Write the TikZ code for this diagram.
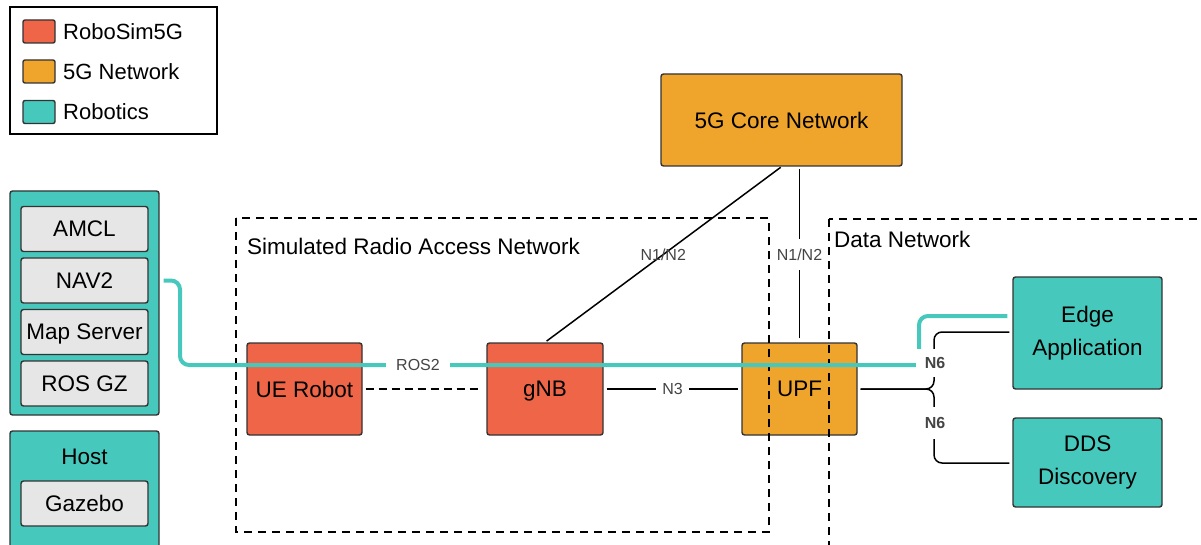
\documentclass[tikz,border=0pt]{standalone}
\usepackage{fontspec}
\setmainfont{Liberation Sans}
\usetikzlibrary{calc}
\definecolor{robosim}{HTML}{EE6548}
\definecolor{fivegnet}{HTML}{EFA52C}
\definecolor{robotics}{HTML}{47C8BC}
\definecolor{innergray}{HTML}{E6E6E6}
\definecolor{edgecol}{HTML}{333333}
\definecolor{labelgray}{HTML}{444444}

\begin{document}
\begin{tikzpicture}[x=1pt,y=-1pt,
  box/.style={draw=edgecol, line width=1.4pt, rounded corners=2.5pt, inner sep=0pt,
    align=center, font=\fontsize{22.5}{33}\selectfont},
  robobox/.style={box, fill=robosim},
  netbox/.style={box, fill=fivegnet},
  robotbox/.style={box, fill=robotics},
  modbox/.style={box, fill=innergray, minimum width=127pt, minimum height=45pt},
  swatch/.style={box, minimum width=32pt, minimum height=23pt, rounded corners=2pt},
  legtext/.style={anchor=west, inner sep=0pt, font=\fontsize{22}{26}\selectfont},
  region/.style={draw=black, line width=1.4pt, dash pattern=on 8pt off 6pt},
  regiontext/.style={anchor=west, inner sep=0pt, font=\fontsize{22.5}{26}\selectfont},
  link/.style={draw=black, line width=1.5pt},
  roslink/.style={draw=robotics, line width=4pt},
  iflabel/.style={font=\fontsize{16}{18}\selectfont, text=labelgray, inner sep=3pt},
  n6label/.style={font=\fontsize{16}{18}\selectfont\bfseries, text=labelgray, fill=white,
    inner xsep=9pt, inner ysep=8pt},
]
\useasboundingbox (0,0) rectangle (1201,545);

% legend
\node[draw=black, line width=1.2pt, minimum width=207pt, minimum height=127pt, inner sep=0pt]
  (legend) at (113.5,70.5) {};
\node[swatch, fill=robosim]  (swA) at (39,31.5) {};
\node[swatch, fill=fivegnet] (swB) at (39,71.5) {};
\node[swatch, fill=robotics] (swC) at (39,112) {};
\node[legtext] (ltA) at (63,31.5) {RoboSim5G};
\node[legtext] (ltB) at (63,71.5) {5G Network};
\node[legtext] (ltC) at (63,112) {Robotics};

% robot software stack
\node[robotbox, minimum width=149pt, minimum height=224pt] (stack) at (84.5,303) {};
\node[modbox] (amcl) at (84.5,229) {AMCL};
\node[modbox] (nav2) at (84.5,280.5) {NAV2};
\node[modbox, text depth=0pt] (mapsrv) at (84.5,332) {Map Server};
\node[modbox] (rosgz) at (84.5,383.5) {ROS GZ};

% simulation host
\node[robotbox, minimum width=149pt, minimum height=140pt] (host) at (84.5,501) {};
\node[inner sep=0pt, font=\fontsize{22.5}{26}\selectfont] (hostlbl) at (84.5,457) {Host};
\node[modbox] (gazebo) at (84.5,503.5) {Gazebo};

% network functions
\node[robobox, minimum width=115pt, minimum height=92pt] (ue) at (304.5,389) {UE Robot};
\node[robobox, minimum width=116pt, minimum height=92pt, text depth=0pt] (gnb) at (545,389) {gNB};
\node[netbox, minimum width=115pt, minimum height=92pt] (upf) at (799.5,389) {UPF};
\node[netbox, minimum width=241pt, minimum height=92pt] (core) at (781.5,120) {5G Core Network};
\node[robotbox, minimum width=149pt, minimum height=112pt] (edge) at (1087.5,333) {Edge\\Application};
\node[robotbox, minimum width=149pt, minimum height=89pt] (dds) at (1087.5,462.5) {DDS\\Discovery};

% network regions
\draw[region] (236,218) rectangle (769,532);
\node[regiontext] (ranlbl) at (247,246) {Simulated Radio Access Network};
\draw[region] (829,219) rectangle (1240,580);
\node[regiontext] (dnlbl) at (834,239) {Data Network};

% control and user plane links
\draw[link, dash pattern=on 8pt off 5pt, shorten <=3pt, shorten >=5pt] (ue) -- (gnb);
\draw[link, shorten <=3pt, shorten >=3pt] (gnb) -- node[iflabel, fill=white, inner xsep=6pt] (n3) {N3} (upf);
\draw[link, shorten <=2pt, shorten >=1pt] (gnb.north) -- node[iflabel] (n12a) {N1/N2} (core.south);
\draw[link, shorten <=4pt, shorten >=2pt] (upf.north) -- node[iflabel, fill=white, inner ysep=10pt] (n12b) {N1/N2} (upf.north |- core.south);
\draw[link, rounded corners=8pt, shorten <=3pt, shorten >=3pt] (upf.east) -| (934,332) -- (edge.west |- 0,332);
\draw[link, rounded corners=8pt, shorten <=3pt, shorten >=3pt] (upf.east) -| (934,463) -- (dds.west |- 0,463);

% ROS2 traffic
\coordinate (rosjoint) at (919,365);
\draw[roslink, rounded corners=9pt, shorten <=15pt] (nav2.east) -| (180,365) -- (rosjoint);
\draw[roslink, rounded corners=9pt, shorten >=5pt] (rosjoint) |- (edge.west |- 0,316);
\node[iflabel, fill=white, inner xsep=10pt] (ros2) at (418,365) {ROS2};

% N6 labels
\node[n6label] (n6a) at (935,363) {N6};
\node[n6label, inner ysep=10pt] (n6b) at (935,423) {N6};
\end{tikzpicture}
\end{document}
